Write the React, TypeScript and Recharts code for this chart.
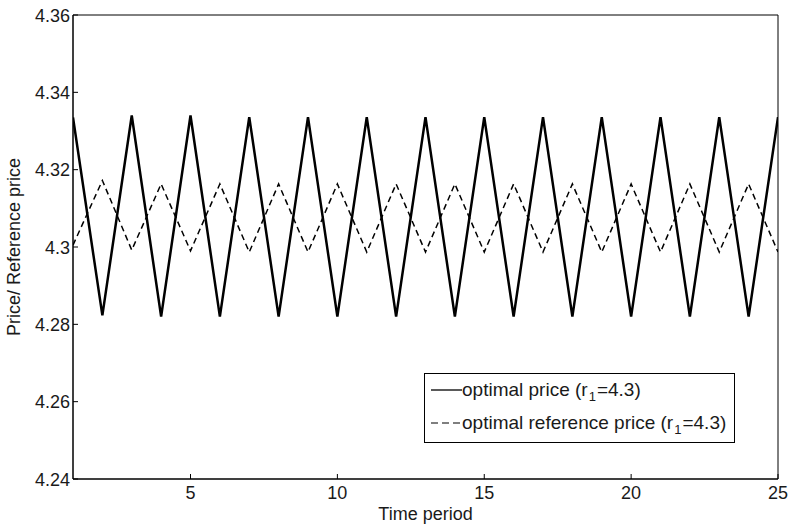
import React from 'react';
import { LineChart, Line, XAxis, YAxis, Label, ReferenceArea } from 'recharts';

const periods = [1, 2, 3, 4, 5, 6, 7, 8, 9, 10, 11, 12, 13, 14, 15, 16, 17, 18, 19, 20, 21, 22, 23, 24, 25];
const optimalPrice = [
  4.3335, 4.2823, 4.3340, 4.2820, 4.3340, 4.2820, 4.3336, 4.2820, 4.3336, 4.2820,
  4.3336, 4.2820, 4.3336, 4.2820, 4.3336, 4.2820, 4.3336, 4.2820, 4.3336, 4.2820,
  4.3336, 4.2820, 4.3336, 4.2820, 4.3336,
];
const optimalReferencePrice = [
  4.3005, 4.3172, 4.2992, 4.3163, 4.2990, 4.3163, 4.2987, 4.3163, 4.2987, 4.3163,
  4.2987, 4.3163, 4.2987, 4.3163, 4.2987, 4.3163, 4.2987, 4.3163, 4.2987, 4.3163,
  4.2987, 4.3163, 4.2987, 4.3163, 4.2987,
];
const xTicks = [5, 10, 15, 20, 25];
const yTicks = [4.24, 4.26, 4.28, 4.3, 4.32, 4.34, 4.36];

const data = periods.map((p, i) => ({
  period: p,
  price: optimalPrice[i],
  ref: optimalReferencePrice[i],
}));

const FONT = '"Liberation Sans", Arial, Helvetica, sans-serif';
const TXT = '#1a1a1a';
const FS = 18;
const TL = 5;
const fmtY = (v: number) => String(+Number(v).toFixed(2));

const LeftTick = (props: any) => {
  const { x, y, payload } = props;
  return (
    <g>
      <line x1={x + 3} x2={x + 3 + TL} y1={y} y2={y} stroke="#000" strokeWidth={1} />
      <text x={x} y={y} dy={6.5} textAnchor="end" fontFamily={FONT} fontSize={FS} fill={TXT}>
        {fmtY(payload.value)}
      </text>
    </g>
  );
};

const RightTick = (props: any) => {
  const { x, y } = props;
  return <line x1={x - TL} x2={x} y1={y} y2={y} stroke="#000" strokeWidth={1} />;
};

const BottomTick = (props: any) => {
  const { x, y, payload } = props;
  return (
    <g>
      <line x1={x} x2={x} y1={y - 6} y2={y - 6 - TL} stroke="#000" strokeWidth={1} />
      <text x={x} y={y} dy={14} textAnchor="middle" fontFamily={FONT} fontSize={FS} fill={TXT}>
        {payload.value}
      </text>
    </g>
  );
};

const TopTick = (props: any) => {
  const { x, y } = props;
  return <line x1={x} x2={x} y1={y} y2={y + TL} stroke="#000" strokeWidth={1} />;
};

const subStyle: React.CSSProperties = {
  fontSize: 13,
  lineHeight: 0,
  verticalAlign: -5,
  margin: '0 1px',
};

const LegendBox = () => (
  <div
    style={{
      position: 'absolute',
      left: 424,
      top: 373,
      width: 309,
      height: 68,
      border: '1px solid #000',
      background: '#fff',
      fontFamily: FONT,
      fontSize: 19,
      color: TXT,
      boxSizing: 'content-box',
      whiteSpace: 'nowrap',
      lineHeight: '20px',
    }}
  >
    <div style={{ display: 'flex', alignItems: 'center', height: 20, marginTop: 6, marginLeft: 6 }}>
      <svg width={31} height={10} style={{ flex: 'none' }}>
        <line x1={0} x2={31} y1={5} y2={5} stroke="#000" strokeWidth={1.3} />
      </svg>
      <span>
        optimal price (r<span style={subStyle}>1</span>=4.3)
      </span>
    </div>
    <div style={{ display: 'flex', alignItems: 'center', height: 20, marginTop: 13, marginLeft: 6 }}>
      <svg width={31} height={10} style={{ flex: 'none' }}>
        <line x1={0} x2={31} y1={5} y2={5} stroke="#000" strokeWidth={1.2} strokeDasharray="7 4" />
      </svg>
      <span>
        optimal reference price (r<span style={subStyle}>1</span>=4.3)
      </span>
    </div>
  </div>
);

export default function App() {
  return (
    <div style={{ position: 'absolute', left: 0, top: 0, width: 791, height: 526, background: '#fff' }}>
      <LineChart
        width={791}
        height={526}
        data={data}
        margin={{ top: 15, right: 13, left: 0, bottom: 0 }}
      >
        <XAxis
          dataKey="period"
          type="number"
          domain={[1, 25]}
          ticks={xTicks}
          allowDataOverflow
          height={47}
          tickSize={0}
          tickMargin={6}
          tickLine={false}
          tick={<BottomTick />}
          axisLine={{ stroke: '#000', strokeWidth: 1 }}
        >
          <Label
            value="Time period"
            position="insideBottom"
            offset={6}
            style={{ fontFamily: FONT, fontSize: FS, fill: TXT }}
          />
        </XAxis>
        <XAxis
          xAxisId="top"
          orientation="top"
          dataKey="period"
          type="number"
          domain={[1, 25]}
          ticks={xTicks}
          allowDataOverflow
          height={0}
          tickSize={0}
          tickMargin={0}
          tickLine={false}
          tick={<TopTick />}
          axisLine={{ stroke: '#000', strokeWidth: 1 }}
        />
        <YAxis
          type="number"
          domain={[4.24, 4.36]}
          ticks={yTicks}
          allowDataOverflow
          width={73}
          tickSize={0}
          tickMargin={3}
          tickLine={false}
          tick={<LeftTick />}
          axisLine={{ stroke: '#000', strokeWidth: 1 }}
        >
          <Label
            value="Price/ Reference price"
            angle={-90}
            position="insideLeft"
            offset={14}
            style={{ fontFamily: FONT, fontSize: FS, fill: TXT, textAnchor: 'middle' }}
          />
        </YAxis>
        <YAxis
          yAxisId="right"
          orientation="right"
          type="number"
          domain={[4.24, 4.36]}
          ticks={yTicks}
          allowDataOverflow
          width={0}
          tickSize={0}
          tickMargin={0}
          tickLine={false}
          tick={<RightTick />}
          axisLine={{ stroke: '#000', strokeWidth: 1 }}
        />
        <ReferenceArea
          x1={1}
          x2={25}
          y1={4.24}
          y2={4.36}
          fill="none"
          stroke="#000"
          strokeWidth={1}
          ifOverflow="visible"
        />
        <Line
          xAxisId="top"
          yAxisId="right"
          type="linear"
          dataKey="price"
          stroke="none"
          dot={false}
          legendType="none"
          isAnimationActive={false}
        />
        <Line
          type="linear"
          dataKey="price"
          stroke="#000"
          strokeWidth={2.5}
          dot={false}
          isAnimationActive={false}
        />
        <Line
          type="linear"
          dataKey="ref"
          stroke="#000"
          strokeWidth={1.5}
          strokeDasharray="6 4"
          dot={false}
          isAnimationActive={false}
        />
      </LineChart>
      <LegendBox />
    </div>
  );
}
